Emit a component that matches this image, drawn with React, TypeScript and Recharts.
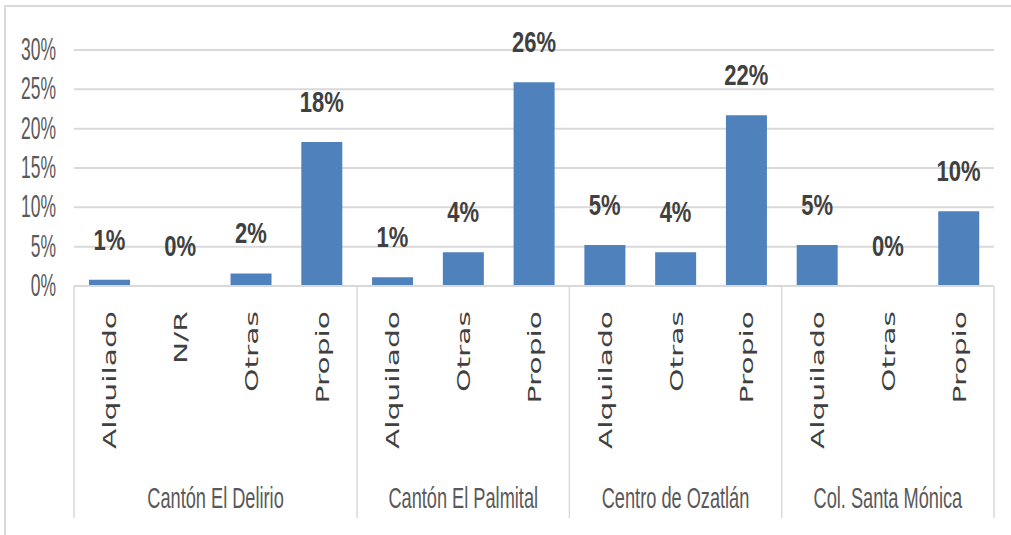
import React from "react";
import { ComposedChart, Bar, Line, XAxis, YAxis, CartesianGrid, LabelList } from "recharts";

const groups = ["Cantón El Delirio", "Cantón El Palmital", "Centro de Ozatlán", "Col. Santa Mónica"];
const categories = ["Alquilado", "N/R", "Otras", "Propio", "Alquilado", "Otras", "Propio", "Alquilado", "Otras", "Propio", "Alquilado", "Otras", "Propio"];
const groupIndex = [0, 0, 0, 0, 1, 1, 1, 2, 2, 2, 3, 3, 3];
const values = [0.8, 0, 1.6, 18.3, 1.1, 4.3, 25.9, 5.2, 4.3, 21.7, 5.2, 0, 9.5];
const yTicks = [0, 5, 10, 15, 20, 25, 30];

const data = categories.map((c, i) => ({ key: `k${i}`, cat: c, group: groupIndex[i], value: values[i] }));

const W = 1011;
const H = 535;
const GRID = "#d9d9d9";
const TEXT = "#404040";

const YTick = (props: any) => {
  const { x, y, payload } = props;
  return (
    <g transform={`translate(${x - 18},${y + 10}) scale(1,1.75)`}>
      <text x={0} y={0} textAnchor="end" fontFamily="Liberation Sans, Arial, sans-serif" fontSize={17.5} fill="#595959">
        {`${payload.value}%`}
      </text>
    </g>
  );
};

const XTick = (props: any) => {
  const { x, y, payload } = props;
  const i: number = payload.index ?? props.index;
  const half: number = payload.offset && payload.offset > 0 ? payload.offset : 35.4;
  const bw = half * 2;
  const g = groupIndex[i];
  const isStart = i === 0 || groupIndex[i - 1] !== g;
  const isLast = i === categories.length - 1;
  const size = groupIndex.filter((v) => v === g).length;
  return (
    <g>
      <g transform={`translate(${x + 7},${y + 25}) rotate(-90) scale(1.7,1)`}>
        <text x={0} y={0} textAnchor="end" fontFamily="DejaVu Sans, sans-serif" fontSize={17.5} fill={TEXT}>
          {categories[i]}
        </text>
      </g>
      {isStart && (
        <line x1={x - half} x2={x - half} y1={y} y2={y + 232} stroke={GRID} strokeWidth={1.5} />
      )}
      {isLast && (
        <line x1={x + half} x2={x + half} y1={y} y2={y + 232} stroke={GRID} strokeWidth={1.5} />
      )}
      {isStart && (
        <g transform={`translate(${x - half + (size * bw) / 2},${y + 222}) scale(1,1.6)`}>
          <text x={0} y={0} textAnchor="middle" fontFamily="Liberation Sans, Arial, sans-serif" fontSize={18.2} fill="#595959">
            {groups[g]}
          </text>
        </g>
      )}
    </g>
  );
};

const PointLabel = (props: any) => {
  const { x, y, value } = props;
  return (
    <g transform={`translate(${Number(x)},${Number(y) - 30}) scale(1,1.38)`}>
      <text x={0} y={0} textAnchor="middle" fontFamily="Liberation Sans, Arial, sans-serif" fontWeight="bold" fontSize={22} fill={TEXT}>
        {`${Math.round(Number(value))}%`}
      </text>
    </g>
  );
};

export default function App() {
  return (
    <div style={{ position: "absolute", left: 0, top: 0, width: W, height: H, background: "#fff", overflow: "hidden" }}>
      <div
        style={{
          position: "absolute",
          left: 4,
          top: 5,
          width: W,
          height: H,
          borderTop: `2px solid ${GRID}`,
          borderLeft: `2px solid ${GRID}`,
        }}
      />
      <div style={{ position: "absolute", left: 0, top: 0 }}>
        <ComposedChart width={W} height={H} data={data} margin={{ top: 50, right: 17, bottom: 0, left: 0 }}>
          <CartesianGrid vertical={false} stroke={GRID} strokeWidth={2} />
          <XAxis
            dataKey="key"
            interval={0}
            height={249}
            tickSize={0}
            tickMargin={0}
            axisLine={{ stroke: GRID, strokeWidth: 2 }}
            tickLine={false}
            tick={<XTick />}
          />
          <YAxis
            width={74}
            domain={[0, 30]}
            ticks={yTicks}
            axisLine={false}
            tickLine={false}
            tickSize={0}
            tickMargin={0}
            tick={<YTick />}
          />
          <Bar dataKey="value" fill="#4f81bd" barSize={41} isAnimationActive={false} />
          <Line dataKey="value" stroke="none" dot={false} activeDot={false} isAnimationActive={false}>
            <LabelList dataKey="value" content={<PointLabel />} />
          </Line>
        </ComposedChart>
      </div>
    </div>
  );
}
